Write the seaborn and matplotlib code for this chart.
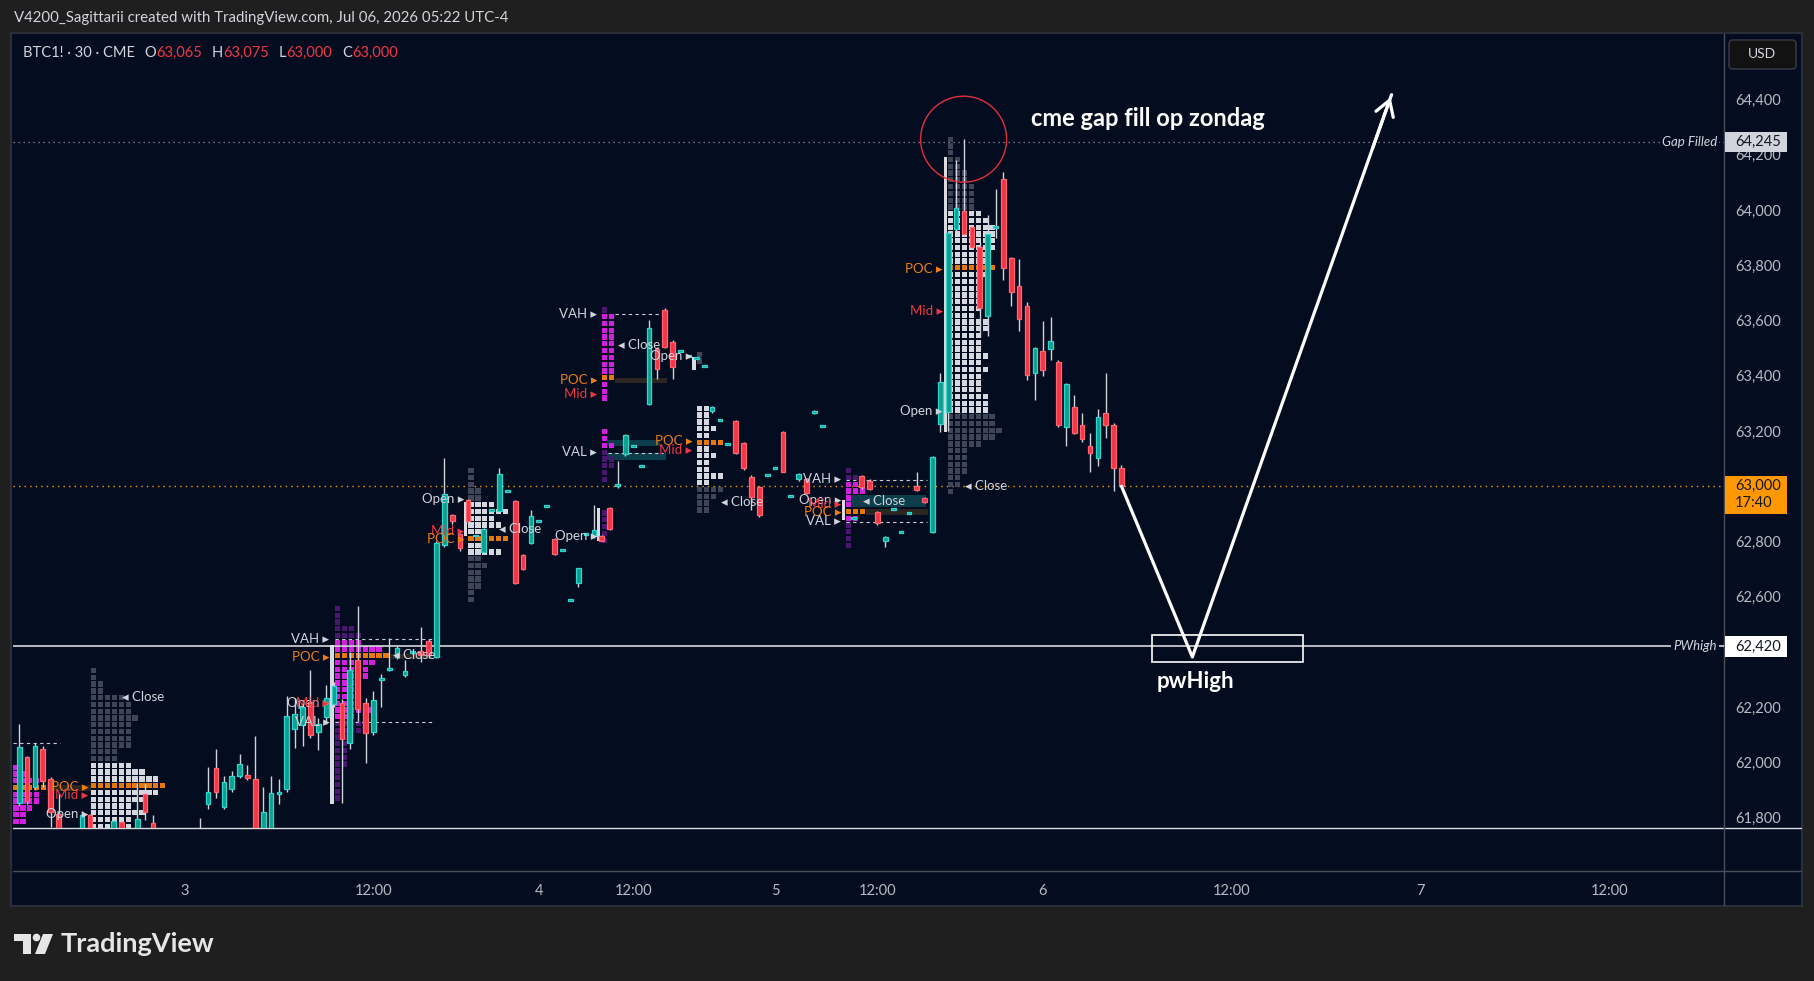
import matplotlib
matplotlib.use("Agg")
import matplotlib.pyplot as plt
import matplotlib.transforms as mtransforms
from matplotlib.patches import Rectangle, Ellipse, FancyBboxPatch, Polygon, Circle
import numpy as np
import pandas as pd
import seaborn as sns

# ---------------- data ----------------
bars = [0, 1, 2, 3, 4, 5, 8, 9, 12, 13,
        15, 16, 17, 23, 24, 25, 26, 27, 28, 29,
        30, 31, 32, 33, 34, 35, 36, 37, 38, 39,
        40, 41, 42, 43, 44, 45, 46, 47, 48, 49,
        50, 51, 52, 53, 54, 55, 56, 57, 58, 59,
        60, 61, 62, 63, 64, 65, 66, 67, 68, 69,
        70, 71, 72, 73, 74, 75, 76, 77, 78, 79,
        80, 81, 82, 83, 84, 85, 86, 87, 88, 89,
        90, 91, 92, 93, 94, 95, 96, 97, 98, 99,
        100, 101, 102, 106, 107, 108, 109, 110, 111, 112,
        113, 114, 115, 116, 117, 118, 119, 120, 121, 122,
        123, 124, 125, 126, 127, 128, 129, 130, 131, 132,
        133, 134, 135, 136, 137, 138, 139, 140]
opens = [61853, 62019, 61911, 62049, 61940, 61814, 61700, 61810, 61720, 61785,
         61720, 61885, 61780, 61730, 61849, 61980, 61838, 61903, 61950, 61954,
         61940, 61740, 61740, 61886, 61903, 62120, 62137, 62218, 62110, 62163,
         62211, 62215, 62070, 62371, 62215, 62112, 62299, 62335, 62381, 62317,
         62395, 62403, 62440, 62381, 62786, 62895, 62826, 62949, 62818, 62763,
         62911, 62912, 62978, 62946, 62750, 62794, 62870, 62924, 62808, 62765,
         62584, 62649, 62824, 62818, 62818, 62920, 63002, 63117, 63141, 63069,
         63297, 63496, 63637, 63521, 63485, 63469, 63460, 63431, 63271, 63236,
         63150, 63235, 63155, 63035, 62996, 63037, 63063, 63195, 62960, 63025,
         63025, 63264, 63213, 62880, 63037, 63020, 62905, 62800, 62914, 62831,
         62898, 63001, 62956, 62833, 63224, 63270, 63930, 63996, 63938, 63864,
         63616, 63935, 64112, 63825, 63725, 63653, 63409, 63489, 63498, 63449,
         63213, 63285, 63221, 63146, 63101, 63264, 63221, 63065]
highs = [62139, 62024, 62070, 62060, 61949, 61889, 61825, 61815, 61790, 61790,
         61927, 61925, 61810, 61800, 61984, 62049, 61951, 61970, 62030, 61991,
         62096, 61912, 61951, 61940, 62241, 62233, 62227, 62335, 62160, 62281,
         62290, 62230, 62400, 62568, 62232, 62258, 62320, 62450, 62420, 62371,
         62400, 62490, 62447, 62800, 63101, 62900, 62830, 62955, 62818, 62850,
         62911, 63065, 62978, 62950, 62755, 62914, 62870, 62924, 62812, 62765,
         62584, 62705, 62824, 62932, 62822, 62925, 63091, 63190, 63141, 63069,
         63600, 63505, 63645, 63530, 63485, 63469, 63460, 63431, 63292, 63236,
         63150, 63240, 63160, 63040, 63000, 63037, 63063, 63200, 62960, 63048,
         63030, 63276, 63213, 62880, 63040, 63025, 62910, 62818, 62914, 62831,
         62898, 63053, 62960, 63108, 63408, 63925, 64181, 64256, 63945, 63885,
         63982, 64077, 64138, 63830, 63823, 63667, 63505, 63598, 63612, 63455,
         63375, 63331, 63265, 63192, 63280, 63409, 63230, 63075]
lows = [61841, 61850, 61901, 61913, 61768, 61700, 61680, 61700, 61700, 61700,
        61700, 61792, 61700, 61690, 61830, 61870, 61830, 61895, 61945, 61935,
        61700, 61700, 61700, 61849, 61893, 62052, 62058, 62088, 62046, 62140,
        62200, 61855, 62050, 62152, 61998, 62100, 62202, 62330, 62375, 62310,
        62390, 62362, 62380, 62377, 62780, 62865, 62767, 62865, 62818, 62755,
        62911, 62905, 62978, 62645, 62695, 62790, 62870, 62924, 62750, 62765,
        62584, 62637, 62824, 62812, 62800, 62840, 62995, 63110, 63141, 63069,
        63294, 63388, 63500, 63388, 63485, 63469, 63460, 63431, 63265, 63236,
        63150, 63115, 63060, 62914, 62890, 63037, 63063, 63050, 62960, 63020,
        62970, 63260, 63213, 62880, 62990, 62985, 62860, 62780, 62914, 62831,
        62898, 62984, 62940, 62830, 63198, 63200, 63925, 63911, 63860, 63541,
        63544, 63900, 63747, 63653, 63563, 63386, 63313, 63398, 63458, 63215,
        63147, 63190, 63160, 63053, 63072, 63174, 62981, 63000]
closes = [62055, 61862, 62060, 61932, 61820, 61720, 61810, 61730, 61788, 61740,
          61795, 61820, 61750, 61700, 61893, 61893, 61929, 61951, 61994, 61943,
          61760, 61820, 61889, 61889, 62168, 62175, 62200, 62098, 62139, 62233,
          62277, 62084, 62334, 62193, 62108, 62225, 62305, 62343, 62414, 62330,
          62398, 62389, 62389, 62794, 62971, 62873, 62776, 62873, 62818, 62844,
          62911, 63043, 62978, 62649, 62700, 62891, 62870, 62924, 62754, 62765,
          62584, 62703, 62824, 62841, 62803, 62844, 63004, 63184, 63141, 63069,
          63572, 63426, 63505, 63433, 63485, 63469, 63460, 63431, 63288, 63236,
          63150, 63119, 63065, 62962, 62895, 63037, 63063, 63053, 62960, 63043,
          62975, 63274, 63213, 62880, 62996, 62989, 62866, 62815, 62914, 62831,
          62898, 62987, 62944, 63105, 63376, 63916, 64006, 63913, 63867, 63644,
          63913, 63943, 63789, 63704, 63604, 63401, 63499, 63419, 63526, 63223,
          63369, 63194, 63170, 63119, 63252, 63221, 63065, 63000]

# 62,400 is hidden behind the PWhigh price tag in the reference
price_ticks = [61800, 62000, 62200, 62600, 62800, 63000, 63200,
               63400, 63600, 63800, 64000, 64200, 64400]
time_tick_pos = [21, 45, 66, 78, 96, 109, 130, 154, 178, 202]
time_tick_labels = ["3", "12:00", "4", "12:00", "5", "12:00", "6", "12:00", "7", "12:00"]

gap_filled = 64245
pw_high = 62420
last_price = 63000
last_countdown = "17:40"

# session volume profiles (squares per row, top row first)
prof_A = [1, 2, 4, 5, 4, 4, 3, 2, 2]
prof_B = [1, 1, 2, 2, 5, 6, 6, 7, 6, 6, 6, 6, 4, 4, 6, 8, 10, 11, 10, 8, 6, 8, 6, 6, 4, 3]
prof_C = [1, 1, 1, 3, 4, 4, 7, 8, 6, 5, 5, 3, 4, 4, 4, 6, 3, 4, 4, 2, 2, 2, 2, 2, 1, 1, 1, 1, 1]
prof_D = [1, 1, 1, 2, 2, 4, 6, 4, 5, 3, 6, 3, 5, 2, 3, 2, 2, 2, 1, 1]
prof_E = [1, 2, 2, 2, 2, 2, 2, 2, 2, 2, 2, 1, 1, 1, 0, 0, 0, 0, 1, 1, 2, 1, 2, 2, 1, 1,
          0, 0, 0, 0, 1, 1, 1, 1, 1]
prof_F = [1, 1, 0, 0, 0, 0, 0, 0, 2, 2, 2, 3, 2, 4, 2, 3, 2, 2, 4, 2, 4, 3, 2, 2]
prof_G = [1, 2, 3, 3, 1, 1, 3, 2, 1, 1, 1, 1]
prof_H = [1, 1, 1, 2, 2, 3, 3, 4, 4, 4, 4,
          5, 6, 7, 7, 7, 7, 6, 6, 7, 6, 5, 5, 5, 5, 5, 4, 6, 6, 5, 5, 5, 6, 5, 6, 5, 5, 5, 6, 6, 6,
          7, 7, 8, 7, 5, 3, 3, 3, 3, 2, 2, 1]
prof_start = [-0.74, 9.13, 40.11, 57.04, 74.02, 86.09, 105.01, 117.98]
prof_top = [61995, 62345, 62570, 63068, 63650, 63490, 63068, 64268]
prof_va = [(0, 8), (14, 25), (5, 16), (5, 12), (1, 20), (8, 19), (2, 7), (11, 40)]
prof_poc = [3, 17, 7, 10, 10, 13, 6, 19]
prof_kind = ["m", "g", "m", "g", "m", "g", "m", "g"]

open_bar_x = [39.73, 56.69, 73.6, 85.7, 104.67, 117.65]
open_bar_top = [62425, 62944, 62920, 63469, 62950, 64193]
open_bar_bot = [61850, 62818, 62800, 63421, 62878, 63198]

marker_x = [8.78, 8.78, 8.78, 39.4, 39.4, 39.4, 39.4, 39.4, 56.5, 56.5, 56.5,
            73.4, 73.4, 73.4, 73.4, 73.4, 85.5, 85.5, 85.5,
            104.4, 104.4, 104.4, 104.4, 104.4, 117.3, 117.3, 117.3]
marker_y = [61913, 61883, 61814, 62447, 62383, 62214, 62214, 62146, 62953, 62839, 62808,
            63624, 63385, 63333, 63122, 62821, 63473, 63162, 63131,
            63025, 62950, 62935, 62908, 62874, 63785, 63633, 63274]
marker_text = ["POC", "Mid", "Open", "VAH", "POC", "Open", "Mid", "VAL", "Open", "Mid", "POC",
               "VAH", "POC", "Mid", "VAL", "Open", "Open", "POC", "Mid",
               "VAH", "Open", "Mid", "POC", "VAL", "POC", "Mid", "Open"]
close_x = [13.02, 47.5, 60.9, 76.1, 89.2, 107.2, 120.1]
close_y = [62236, 62389, 62844, 63511, 62943, 62948, 63001]

va_line_x0 = [-0.78, 40.1, 40.1, 75.7, 74.8, 105.0, 105.0]
va_line_x1 = [5.2, 52.4, 52.4, 81.4, 81.8, 115.3, 115.3]
va_line_y = [62070, 62447, 62146, 63622, 63119, 63023, 62872]

poc_ext_x0 = [3.6, 47.2, 75.7, 107.6]
poc_ext_x1 = [9.1, 52.4, 82.3, 115.4]
poc_ext_y = [61907, 62383, 63383, 62907]

close_box_x0 = [74.6, 74.6, 105.0]
close_box_x1 = [81.4, 82.2, 115.2]
close_box_lo = [63146, 63095, 62924]
close_box_hi = [63168, 63119, 62969]

path_x = [140, 149, 174.3]
path_y = [63000, 62382, 64417]
circle_center = (119.95, 64256)
zone_x = (143.9, 163.0)
zone_y = (62362, 62463)

# ---------------- style ----------------
sns.set_theme(style="dark")
plt.rcParams['font.family'] = ['Lato', 'DejaVu Sans']

BG = '#1f1f1f'
PANEL = '#040d1f'
TXT = '#d1d4dc'
AX_TXT = '#b8bbc3'
TEAL, TEAL_E = '#0f9e8e', '#2fd6cf'
RED, RED_E = '#f23645', '#ff6470'
WICK = '#cfd2da'
MAG, MAG_D = '#d41ee0', '#4a1670'
GRY, GRY_D = '#d5d8de', '#3f4657'
POC_C = '#e8780c'
ORANGE_T = '#f07d12'
BROWN = '#2c2622'
DTEAL = '#0b3d4a'

W, H = 1814, 981
fig = plt.figure(figsize=(W / 100, H / 100), dpi=100, facecolor=BG)


def fig_rect(x0, y0, x1, y1):
    return [x0 / W, 1 - y1 / H, (x1 - x0) / W, (y1 - y0) / H]


bg = fig.add_axes([0, 0, 1, 1], zorder=0)
bg.set_xlim(0, W)
bg.set_ylim(H, 0)
bg.axis('off')
bg.add_patch(Rectangle((11, 33), 1791, 873, fc=PANEL, ec='#2a2e39', lw=1.5))
bg.plot([13, 1801], [828, 828], color='#d8dbe2', lw=1.0)
bg.plot([13, 1801], [871, 871], color='#4a4e5a', lw=1.0)
bg.plot([1724, 1724], [34, 905], color='#4a4e5a', lw=1.0)

ax = fig.add_axes(fig_rect(13, 35, 1724, 828), zorder=1)
ax.set_facecolor('none')
for s in ax.spines.values():
    s.set_visible(False)
ax.set_xlim(-0.78, 216.52)
ax.set_ylim(61763, 64633)
ax.grid(False)

# price axis
ax.yaxis.tick_right()
ax.set_yticks(price_ticks)
ax.set_yticklabels([f"{p:,}" for p in price_ticks])
ax.tick_params(axis='y', length=0, pad=8, labelcolor=AX_TXT, labelsize=10.5)
ax.set_xticks(time_tick_pos)
ax.set_xticklabels(time_tick_labels)
ax.tick_params(axis='x', length=0, pad=40, labelcolor=AX_TXT, labelsize=10.5)

# reference lines
ax.axhline(gap_filled, color='#9598a1', lw=0.9, ls=(0, (1, 3)), zorder=1)
ax.axhline(last_price, color='#ff9800', lw=1.0, ls=(0, (1, 3)), zorder=1)
ax.axhline(pw_high, color='#e8e8e8', lw=1.1, zorder=3)

# profile helper bars (brown POC extensions, teal close boxes)
for x0, x1, y in zip(poc_ext_x0, poc_ext_x1, poc_ext_y):
    ax.add_patch(Rectangle((x0, y - 10), x1 - x0, 20, fc=BROWN, ec='none', zorder=1.5))
for x0, x1, lo, hi in zip(close_box_x0, close_box_x1, close_box_lo, close_box_hi):
    ax.add_patch(Rectangle((x0, lo), x1 - x0, hi - lo, fc=DTEAL, ec='none', zorder=1.5))

# profiles
STEP = 24.5
SQ = 0.876
for counts, x0, top, va, poc, kind in zip([prof_A, prof_B, prof_C, prof_D, prof_E, prof_F, prof_G, prof_H],
                                           prof_start, prof_top, prof_va, prof_poc, prof_kind):
    cin, cout = (MAG, MAG_D) if kind == "m" else (GRY, GRY_D)
    for r, n in enumerate(counts):
        yc = top - STEP * (r + 0.5)
        if r == poc:
            col = POC_C
        elif va[0] <= r <= va[1]:
            col = cin
        else:
            col = cout
        for j in range(n):
            ax.add_patch(Rectangle((x0 + j * SQ, yc - STEP * 0.39), SQ * 0.78, STEP * 0.78,
                                   fc=col, ec='none', zorder=2))

for x, t, b in zip(open_bar_x, open_bar_top, open_bar_bot):
    ax.add_patch(Rectangle((x - 0.22, b), 0.44, t - b, fc='#d9dbe0', ec='none', zorder=2.2))

for x0, x1, y in zip(va_line_x0, va_line_x1, va_line_y):
    ax.plot([x0, x1], [y, y], color='#c9ccd4', lw=0.8, ls=(0, (3, 3)), zorder=3)

# candles
df = pd.DataFrame({'bar': bars, 'open': opens, 'high': highs, 'low': lows, 'close': closes})
df['up'] = df['close'] >= df['open']
df['base'] = df[['open', 'close']].min(axis=1)
df['size'] = (df['close'] - df['open']).abs().clip(lower=7)
ax.vlines(df['bar'], df['low'], df['high'], color=WICK, lw=1.0, zorder=4)
for up, fill, edge in [(True, TEAL, TEAL_E), (False, RED, RED_E)]:
    d = df[df['up'] == up]
    ax.bar(d['bar'], d['size'], bottom=d['base'], width=0.6, color=fill,
           edgecolor=edge, linewidth=0.9, zorder=5)

# profile labels
col_map = {"POC": ORANGE_T, "Mid": RED, "Open": TXT, "VAH": TXT, "VAL": TXT}
for x, y, s in zip(marker_x, marker_y, marker_text):
    ax.text(x, y, f"{s} ▸", color=col_map[s], fontsize=9.5, ha='right', va='center',
            zorder=7, clip_on=True)
for x, y in zip(close_x, close_y):
    ax.text(x, y, "◂ Close", color=TXT, fontsize=9.5, ha='left', va='center', zorder=7, clip_on=True)

# annotations
ax.add_patch(Ellipse(circle_center, width=10.92, height=311, fill=False, ec='#e0303f', lw=1.0, zorder=8))
ax.text(128.5, 64329, "cme gap fill op zondag", color='white', fontsize=17, fontweight='bold',
        ha='left', va='center', zorder=8)
ax.add_patch(Rectangle((zone_x[0], zone_y[0]), zone_x[1] - zone_x[0], zone_y[1] - zone_y[0],
                       fill=False, ec='white', lw=1.2, zorder=8))
ax.text(144.4, 62295, "pwHigh", color='white', fontsize=16, fontweight='bold',
        ha='left', va='center', zorder=8)
sns.lineplot(x=path_x, y=path_y, ax=ax, color='white', lw=2.3, sort=False, estimator=None, zorder=8)
tip = (path_x[-1], path_y[-1])
back = (path_x[-2] + 0.9 * (path_x[-1] - path_x[-2]), path_y[-2] + 0.9 * (path_y[-1] - path_y[-2]))
ax.annotate('', xy=tip, xytext=back,
            arrowprops=dict(arrowstyle='->,head_length=0.9,head_width=0.55', color='white', lw=2.3),
            zorder=8)

# right-side level labels
blend = mtransforms.blended_transform_factory(ax.transAxes, ax.transData)
ax.text(0.9959, gap_filled, "Gap Filled", transform=blend, color=TXT, fontsize=9.5, style='italic',
        ha='right', va='center', zorder=6, bbox=dict(fc=PANEL, ec='none', pad=1.5))
ax.text(0.9959, pw_high, "PWhigh", transform=blend, color=TXT, fontsize=9.5, style='italic',
        ha='right', va='center', zorder=6, bbox=dict(fc=PANEL, ec='none', pad=1.5))

px = 0.2763  # pixels per price unit on this axis
ax.add_patch(Rectangle((1.0006, gap_filled - 10 / px), 0.0361, 20 / px, transform=blend,
                       fc='#d1d4dc', ec='none', clip_on=False, zorder=9))
ax.text(1.0064, gap_filled, f"{gap_filled:,}", transform=blend, color='#131722', fontsize=10.5,
        ha='left', va='center', clip_on=False, zorder=10)
ax.add_patch(Rectangle((1.0006, pw_high - 10.5 / px), 0.0361, 21 / px, transform=blend,
                       fc='#ffffff', ec='none', clip_on=False, zorder=9))
ax.text(1.0064, pw_high, f"{pw_high:,}", transform=blend, color='#131722', fontsize=10.5,
        ha='left', va='center', clip_on=False, zorder=10)
ax.add_patch(Rectangle((1.0006, last_price - 28 / px), 0.0361, 38.5 / px, transform=blend,
                       fc='#ff9800', ec='none', clip_on=False, zorder=9))
ax.text(1.0064, last_price, f"{last_price:,}", transform=blend, color='#131722', fontsize=10.5,
        ha='left', va='center', clip_on=False, zorder=10)
ax.text(1.0064, last_price - 17 / px, last_countdown, transform=blend, color='#131722', fontsize=10.5,
        ha='left', va='center', clip_on=False, zorder=10)

# overlay: header, legend line, footer
fg = fig.add_axes([0, 0, 1, 1], zorder=3)
fg.set_xlim(0, W)
fg.set_ylim(H, 0)
fg.axis('off')
fg.patch.set_visible(False)

fg.text(14, 18, "V4200_Sagittarii created with TradingView.com, Jul 06, 2026 05:22 UTC-4",
        color=TXT, fontsize=10.8, va='center', ha='left')

pieces = [("BTC1! · 30 · CME", TXT, 0), ("O", TXT, 7), ("63,065", RED, 0), ("H", TXT, 7),
          ("63,075", RED, 0), ("L", TXT, 7), ("63,000", RED, 0), ("C", TXT, 7), ("63,000", RED, 0)]
prev = fg.text(23, 53, pieces[0][0], color=pieces[0][1], fontsize=10.5, va='center', ha='left')
for s, c, gap in pieces[1:]:
    prev = fg.annotate(s, xy=(1, 0.5), xycoords=prev, xytext=(gap, 0), textcoords='offset points',
                       color=c, fontsize=10.5, va='center', ha='left')

fg.add_patch(FancyBboxPatch((1729, 40), 67, 29, boxstyle='round,pad=0,rounding_size=4',
                            fc='#121212', ec='#3a3d47', lw=1))
fg.text(1762, 54.5, "USD", color=TXT, fontsize=10, ha='center', va='center')

# footer logo
LOGO = '#e6e6e6'
fg.add_patch(Polygon([(14, 934), (31, 934), (31, 954), (23, 954), (23, 941), (14, 941)], closed=True,
                     fc=LOGO, ec='none'))
fg.add_patch(Circle((36.5, 937.5), 3.8, fc=LOGO, ec='none'))
fg.add_patch(Polygon([(43, 934), (53, 934), (45, 954), (35, 954)], closed=True, fc=LOGO, ec='none'))
fg.text(61, 944, "TradingView", color=LOGO, fontsize=19.5, fontweight='bold', va='center', ha='left')

fig.savefig("out.png", dpi=100, facecolor=BG)
